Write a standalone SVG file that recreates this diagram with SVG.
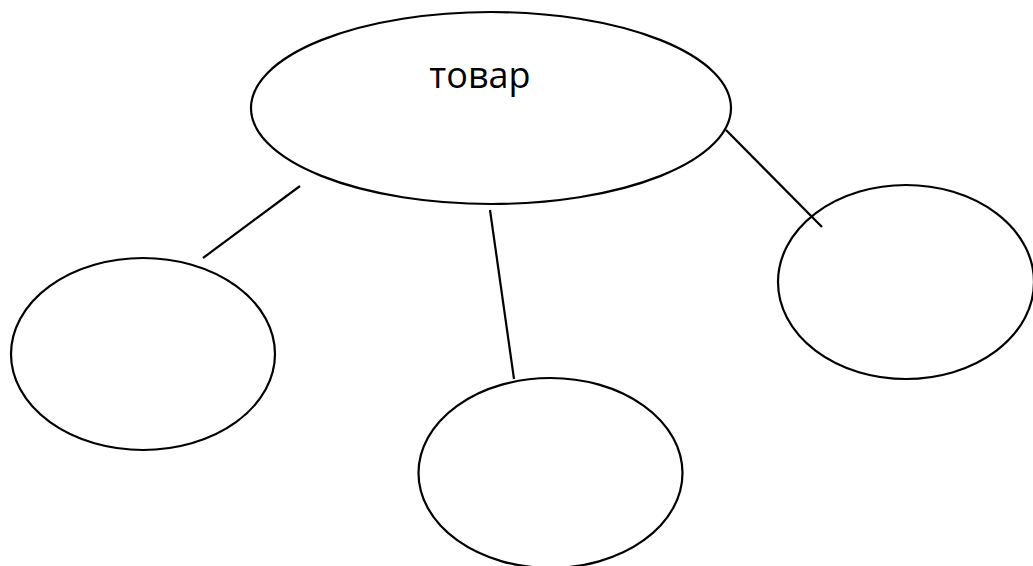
<svg xmlns="http://www.w3.org/2000/svg" width="1033" height="566" viewBox="0 0 1033 566">
<style>
.n{fill:none;stroke:#000;stroke-width:2.2}
.c{stroke:#000;stroke-width:2.2;fill:none}
.t{font-family:"Open Sans","DejaVu Sans",sans-serif;font-size:36px;fill:#000;text-anchor:middle}
</style>
<rect width="1033" height="566" fill="#fff"/>
<g id="node-tovar">
<ellipse class="n" cx="491" cy="108" rx="240" ry="96"/>
<text class="t" x="480" y="88">товар</text>
</g>
<g id="node-left">
<ellipse class="n" cx="143" cy="354" rx="132" ry="96"/>
</g>
<g id="node-bottom">
<ellipse class="n" cx="550.5" cy="473" rx="132" ry="95"/>
</g>
<g id="node-right">
<ellipse class="n" cx="906" cy="282" rx="128" ry="97"/>
</g>
<g id="connectors">
<line class="c" x1="300" y1="186" x2="203" y2="258"/>
<line class="c" x1="490" y1="210" x2="514" y2="379"/>
<line class="c" x1="726" y1="130" x2="822" y2="227"/>
</g>
</svg>
